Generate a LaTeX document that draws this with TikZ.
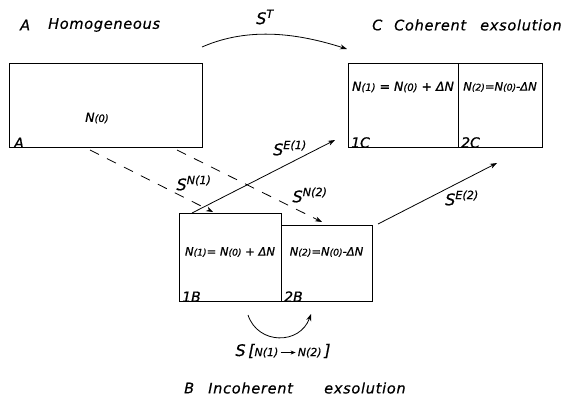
\documentclass[tikz,border=0pt]{standalone}
\usepackage{fontspec}
\setmainfont{DejaVu Sans}
\usetikzlibrary{arrows.meta,calc}
\newcommand{\Nsub}[1]{N{\fontsize{0.8em}{1em}\selectfont(#1)}}
\tikzset{
  box/.style={draw, line width=0.9pt, inner sep=0pt, outer sep=0pt},
  lbl/.style={font=\itshape\fontsize{12.5}{14}\selectfont\addfontfeature{FakeBold=0.8}, inner sep=1pt},
  lblb/.style={font=\itshape\fontsize{11.5}{13}\selectfont\addfontfeature{FakeBold=0.8}, inner sep=1pt},
  tag/.style={font=\itshape\fontsize{14}{16}\selectfont\addfontfeature{FakeBold=0.8}, inner sep=1pt, anchor=south west},
  title/.style={font=\itshape\fontsize{14.5}{16}\selectfont\addfontfeature{LetterSpace=5,FakeBold=0.5}, inner sep=0pt, anchor=west},
  flux/.style={font=\itshape\fontsize{16}{18}\selectfont\addfontfeature{FakeBold=0.5}, inner sep=0pt},
  arr/.style={line width=0.8pt, -{Stealth[length=7pt,width=5pt]}},
  dsh/.style={arr, dash pattern=on 10pt off 9pt}
}
\begin{document}
\begin{tikzpicture}[x=1pt,y=-1pt]
\useasboundingbox (0,0) rectangle (567,399);

% titles
\node[title] (tA1) at (20,25) {A};
\node[title] (tA2) at (48,25) {Homogeneous};
\node[title] (tC1) at (372,25) {C};
\node[title] (tC2) at (394,25) {Coherent};
\node[title] (tC3) at (480,25) {exsolution};
\node[title] (tB1) at (184,388) {B};
\node[title] (tB2) at (208,388) {Incoherent};
\node[title] (tB3) at (324,388) {exsolution};

% boxes
\node[box, minimum width=193pt, minimum height=84pt] (A) at (105.5,105) {};
\node[box, minimum width=110pt, minimum height=84pt] (C1) at (403,105) {};
\node[box, minimum width=84pt, minimum height=84pt] (C2) at (500,105) {};
\node[box, minimum width=102pt, minimum height=88pt] (B1) at (230,257) {};
\node[box, minimum width=91pt, minimum height=76pt] (B2) at (326.5,263) {};

% box contents
\node[lbl] (nA) at (97,118) {\Nsub{0}};
\node[tag] (cA) at ([xshift=4pt,yshift=-2pt]A.south west) {A};
\node[lbl] (nC1) at (403,87) {\Nsub{1} = \Nsub{0} + ΔN};
\node[lblb] (nC2) at (500,87) {\Nsub{2}=\Nsub{0}-ΔN};
\node[tag] (cC1) at ([xshift=2pt,yshift=-2pt]C1.south west) {1C};
\node[tag] (cC2) at ([xshift=2pt,yshift=-2pt]C2.south west) {2C};
\node[lblb] (nB1) at (230,252) {\Nsub{1}= \Nsub{0} + ΔN};
\node[lblb] (nB2) at (326.5,252) {\Nsub{2}=\Nsub{0}-ΔN};
\node[tag] (cB1) at ([xshift=2pt,yshift=-2pt]B1.south west) {1B};
\node[tag] (cB2) at ([xshift=2pt,yshift=-2pt]B2.south west) {2B};

% transfer labels
\node[flux] (sT) at (265,17) {S\textsuperscript{T}};
\node[flux] (sN1) at (194,183) {S\textsuperscript{N(1)}};
\node[flux] (sN2) at (310,195) {S\textsuperscript{N(2)}};
\node[flux] (sE1) at (290,148) {S\textsuperscript{E(1)}};
\node[flux] (sE2) at (462,198) {S\textsuperscript{E(2)}};
\node[flux] (sNN) at (283,351) {S\,[{\fontsize{11}{13}\selectfont N(1)\,\raisebox{0.25ex}{\tikz\draw[line width=0.8pt,-{Stealth[length=5pt,width=4pt]}] (0,0)--(15pt,0);}\,N(2)}\,]};

% connectors
\coordinate (aTop) at ($(A.north east)+(0,-16)$);
\draw[arr] (aTop) .. controls (250,26) and (300,34) .. ($(C1.north west)+(-1,-14)$);
\draw[dsh] ($(A.south west)+(81,3)$) -- ($(B1.north west)+(34,-1)$);
\draw[dsh] ($(A.south west)+(168,3)$) -- ($(B2.north west)+(41,-3)$);
\draw[arr] ($(B1.north west)+(13,0)$) -- ($(C1.south west)+(-13,-7)$);
\draw[arr] ($(B2.north east)+(6,-1)$) -- ($(C2.south west)+(39,16)$);
\draw[arr] ($(B1.south east)+(-33,14)$) .. controls (258,345) and (300,345) .. ($(B1.south east)+(30,13)$);
\end{tikzpicture}
\end{document}
